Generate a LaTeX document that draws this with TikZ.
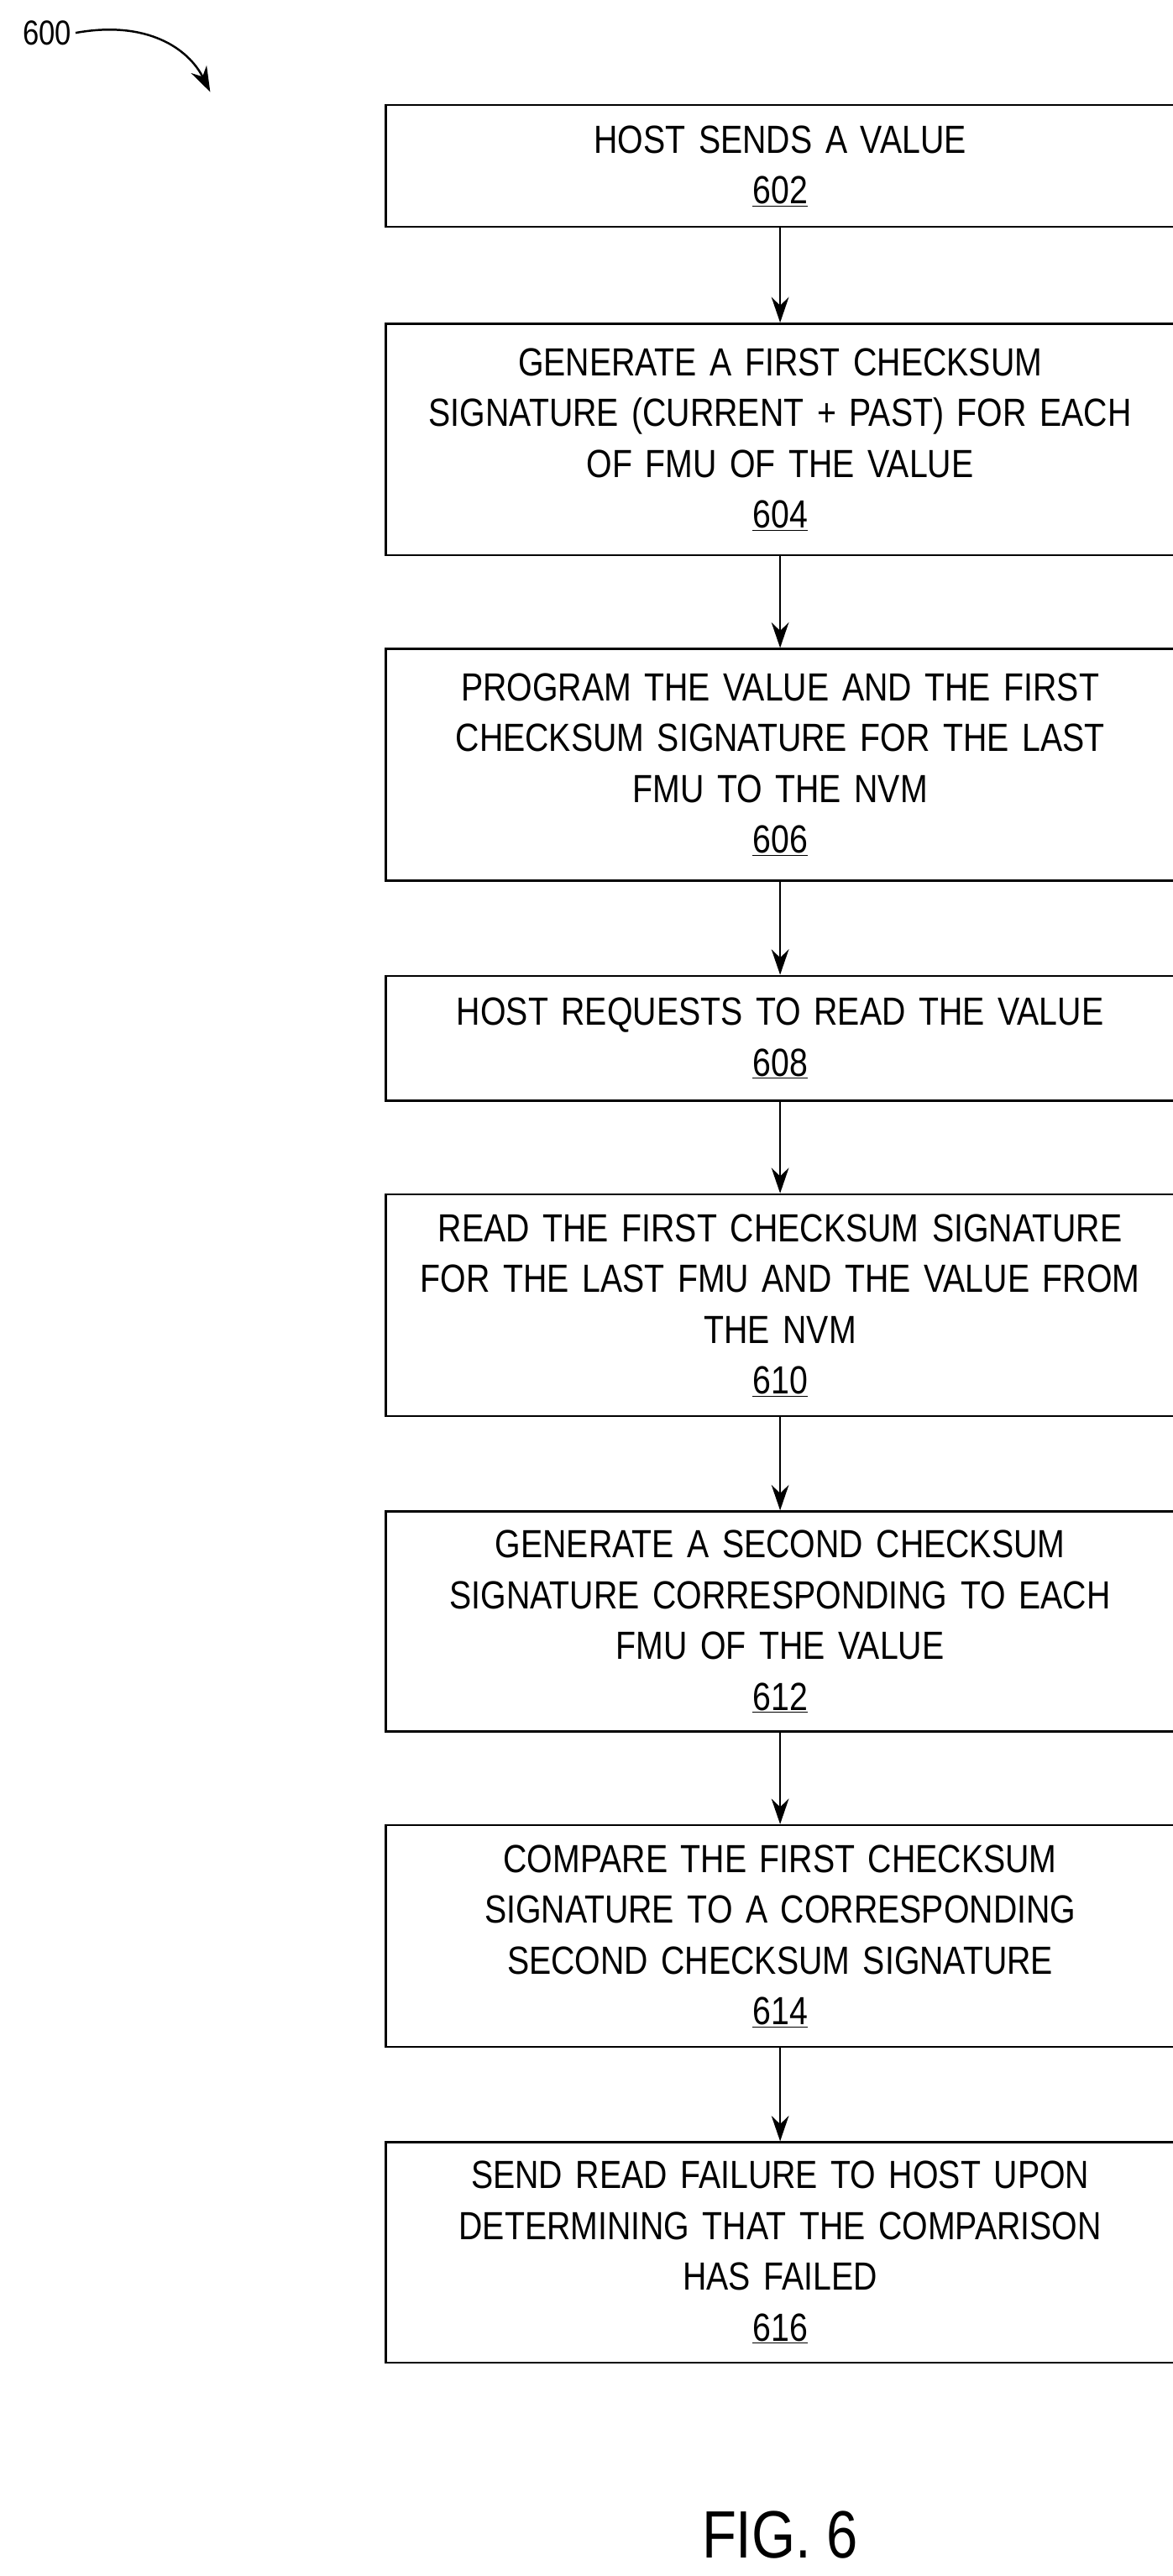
\documentclass[tikz,border=0pt]{standalone}
\usepackage{fontspec}
\setmainfont{Liberation Sans}[FakeStretch=0.84]
\usetikzlibrary{arrows.meta}
\begin{document}
\begin{tikzpicture}[x=0.5mm,y=-0.5mm,
 box/.style={draw,line width=1.8pt,minimum width=231mm,text width=240mm,align=center,inner sep=0pt,font=\fontsize{34}{44}\selectfont},
 arr/.style={-{Stealth[length=22pt,width=15pt]},line width=1.8pt}]
\useasboundingbox (0,0) rectangle (714,1568);
\def\bx#1#2#3#4{\node[box,minimum height={(#3-#2)*0.5mm}] (#1) at (475,{(#2+#3)/2}) {#4};}
\bx{b602}{64}{138}{HOST SENDS A VALUE\\\underline{602}}
\bx{b604}{197}{338}{GENERATE A FIRST CHECKSUM\\SIGNATURE (CURRENT + PAST) FOR EACH\\OF FMU OF THE VALUE\\\underline{604}}
\bx{b606}{395}{536}{PROGRAM THE VALUE AND THE FIRST\\CHECKSUM SIGNATURE FOR THE LAST\\FMU TO THE NVM\\\underline{606}}
\bx{b608}{594}{670}{HOST REQUESTS TO READ THE VALUE\\\underline{608}}
\bx{b610}{727}{862}{READ THE FIRST CHECKSUM SIGNATURE\\FOR THE LAST FMU AND THE VALUE FROM\\THE NVM\\\underline{610}}
\bx{b612}{920}{1054}{GENERATE A SECOND CHECKSUM\\SIGNATURE CORRESPONDING TO EACH\\FMU OF THE VALUE\\\underline{612}}
\bx{b614}{1111}{1246}{COMPARE THE FIRST CHECKSUM\\SIGNATURE TO A CORRESPONDING\\SECOND CHECKSUM SIGNATURE\\\underline{614}}
\bx{b616}{1304}{1438}{SEND READ FAILURE TO HOST UPON\\DETERMINING THAT THE COMPARISON\\HAS FAILED\\\underline{616}}
\foreach \a/\b in {b602/b604,b604/b606,b606/b608,b608/b610,b610/b612,b612/b614,b614/b616}
 \draw[arr] (\a) -- (\b);
\node[font=\fontsize{58}{66}\selectfont] (fig) at (475,1543) {FIG. 6};
\node[font=\fontsize{30}{36}\selectfont,anchor=east] (l600) at (46,20) {600};
\coordinate (c600) at (128,56);
\draw[arr] (l600.east) .. controls (90,12) and (115,30) .. (c600);
\end{tikzpicture}
\end{document}
